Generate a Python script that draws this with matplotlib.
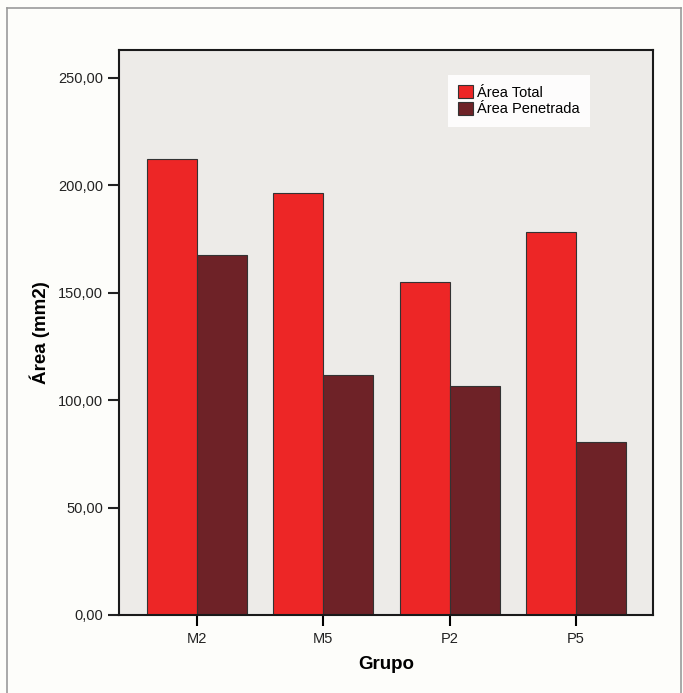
import matplotlib
matplotlib.use("Agg")
from matplotlib import pyplot as plt
from matplotlib.lines import Line2D
from matplotlib.ticker import FuncFormatter
import numpy as np

grupos = ["M2", "M5", "P2", "P5"]
area_total = [212.3, 196.6, 155.2, 178.2]
area_penetrada = [167.6, 111.7, 106.6, 80.7]
y_ticks = [0, 50, 100, 150, 200, 250]

COR_TOTAL = "#ED2626"
COR_PEN = "#6E2227"
FUNDO_PLOT = "#EDEBE8"
FUNDO_FIG = "#FDFDFA"

plt.rcParams["font.family"] = ["Liberation Sans", "DejaVu Sans"]

fig = plt.figure(figsize=(6.83, 6.93), dpi=100, facecolor=FUNDO_FIG)
ax = fig.add_axes([0.1742, 0.1126, 0.7818, 0.8152])
ax.set_facecolor(FUNDO_PLOT)

x = np.arange(len(grupos))
w = 0.396
ax.bar(x - w / 2, area_total, width=w, color=COR_TOTAL, edgecolor="#333333",
       linewidth=0.8, label="Área Total", zorder=2)
ax.bar(x + w / 2, area_penetrada, width=w, color=COR_PEN, edgecolor="#333333",
       linewidth=0.8, label="Área Penetrada", zorder=2)

ax.set_xlim(-0.618, 3.61)
ax.set_ylim(0, 263)
ax.set_xticks(x)
ax.set_xticklabels(grupos, fontsize=10.5, color="#222222")
ax.set_yticks(y_ticks)
ax.yaxis.set_major_formatter(FuncFormatter(lambda v, p: f"{v:.2f}".replace(".", ",")))
ax.tick_params(axis="y", labelsize=10.5, length=8, width=1.5, colors="#222222")
ax.tick_params(axis="x", length=8, width=1.5, pad=4)

for s in ax.spines.values():
    s.set_linewidth(1.5)
    s.set_color("#1a1a1a")

ax.set_ylabel("Área (mm2)", fontsize=13.5, fontweight="bold", va="center")
ax.yaxis.set_label_coords(-0.148, 0.5)
ax.set_xlabel("Grupo", fontsize=13.5, fontweight="bold", va="center")
ax.xaxis.set_label_coords(0.5, -0.087)

leg = ax.legend(loc="upper left", bbox_to_anchor=(448 / 683, 1 - 75 / 693),
                bbox_transform=fig.transFigure, borderaxespad=0, fontsize=10.5,
                frameon=True, fancybox=False, handlelength=1.0, handleheight=1.0,
                handletextpad=0.3, labelspacing=0.15, borderpad=0.7)
leg.get_frame().set_facecolor("white")
leg.get_frame().set_edgecolor("none")
leg.get_frame().set_alpha(0.9)

# moldura externa
cinza = "#9a9a9a"
l, r, t, b = 7 / 683, 681 / 683, 1 - 8 / 693, 0.0
for xs, ys in [([l, r], [t, t]), ([l, l], [b, t]), ([r, r], [b, t])]:
    fig.add_artist(Line2D(xs, ys, color=cinza, linewidth=1.2, transform=fig.transFigure))

fig.savefig("out.png", dpi=100, facecolor=FUNDO_FIG)
